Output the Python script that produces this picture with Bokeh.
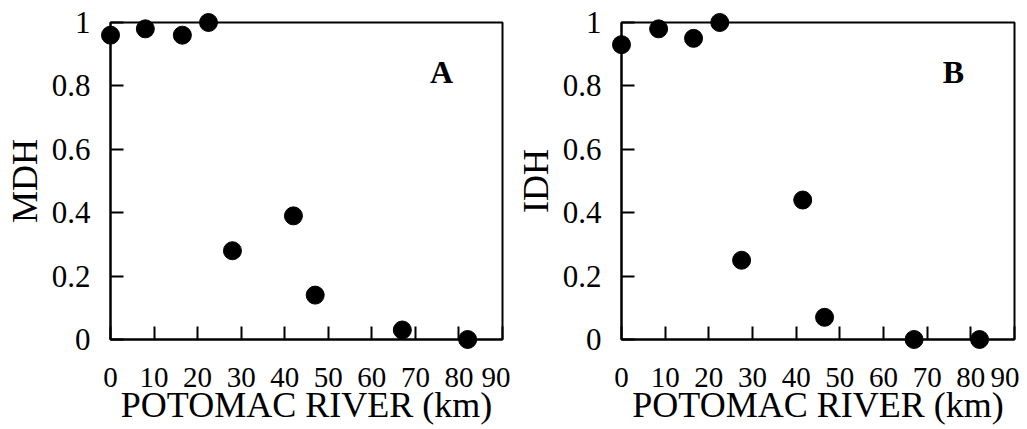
from bokeh.plotting import figure
from bokeh.layouts import row
from bokeh.models import FixedTicker, Range1d
from bokeh.core.properties import value
from bokeh.embed import file_html
from bokeh.resources import INLINE

# ---- data ----
km_a = [0, 8, 16.5, 22.5, 28, 42, 47, 67, 82]
mdh = [0.96, 0.98, 0.96, 1.0, 0.28, 0.39, 0.14, 0.03, 0.0]
km_b = [0, 8.5, 16.5, 22.5, 27.5, 41.5, 46.5, 67, 82]
idh = [0.93, 0.98, 0.95, 1.0, 0.25, 0.44, 0.07, 0.0, 0.0]

x_ticks = [0, 10, 20, 30, 40, 50, 60, 70, 80, 90]
y_ticks = [0, 0.2, 0.4, 0.6, 0.8, 1]
y_tick_labels = ["0", "0.2", "0.4", "0.6", "0.8", "1"]
panel_labels = ["A", "B"]
y_titles = ["MDH", "IDH"]
x_title = "POTOMAC RIVER (km)"
label_pos_x = 76
label_pos_y = 0.845

FONT = "Liberation Serif"


def make_panel(xs, ys, ytitle, plabel, fw, mb_left, mb_right):
    p = figure(frame_width=fw, frame_height=317, output_backend="svg", toolbar_location=None,
               x_range=Range1d(0, 90), y_range=Range1d(0, 1),
               min_border_left=mb_left, min_border_right=mb_right,
               min_border_top=22, min_border_bottom=89)
    p.grid.visible = False
    p.outline_line_color = "black"
    p.outline_line_width = 2
    p.background_fill_color = "white"
    p.border_fill_color = "white"

    xa = p.xaxis[0]
    xa.ticker = FixedTicker(ticks=x_ticks)
    xa.axis_label = x_title
    ya = p.yaxis[0]
    ya.ticker = FixedTicker(ticks=y_ticks)
    ya.major_label_overrides = {t: l for t, l in zip(y_ticks, y_tick_labels)}
    ya.axis_label = ytitle

    for ax in (xa, ya):
        ax.axis_line_color = "black"
        ax.axis_line_width = 2
        ax.major_tick_in = 13
        ax.major_tick_out = 0
        ax.major_tick_line_width = 2
        ax.major_tick_line_color = "black"
        ax.minor_tick_line_color = None
        ax.major_label_text_font = FONT
        ax.major_label_text_color = "black"
        ax.axis_label_text_font = FONT
        ax.axis_label_text_font_size = "36px"
        ax.axis_label_text_font_style = "normal"
        ax.axis_label_text_color = "black"
    xa.major_label_text_font_size = "29px"
    ya.major_label_text_font_size = "31px"
    xa.major_label_standoff = 28
    xa.axis_label_standoff = -5
    ya.major_label_standoff = 20
    ya.axis_label_standoff = 4

    r = p.scatter(xs, ys, size=18, marker="circle", fill_color="black", line_color="black")
    r.level = "overlay"

    p.text(x=[label_pos_x], y=[label_pos_y], text=[plabel], text_font=value(FONT),
           text_font_size="32px", text_font_style="bold", text_color="black",
           text_align="center", text_baseline="middle")
    return p


pa = make_panel(km_a, mdh, y_titles[0], panel_labels[0], 392, 110, 8)
pb = make_panel(km_b, idh, y_titles[1], panel_labels[1], 393, 111, 5)

layout = row(pa, pb, spacing=0)
open("out.html", "w").write(file_html(layout, INLINE))
